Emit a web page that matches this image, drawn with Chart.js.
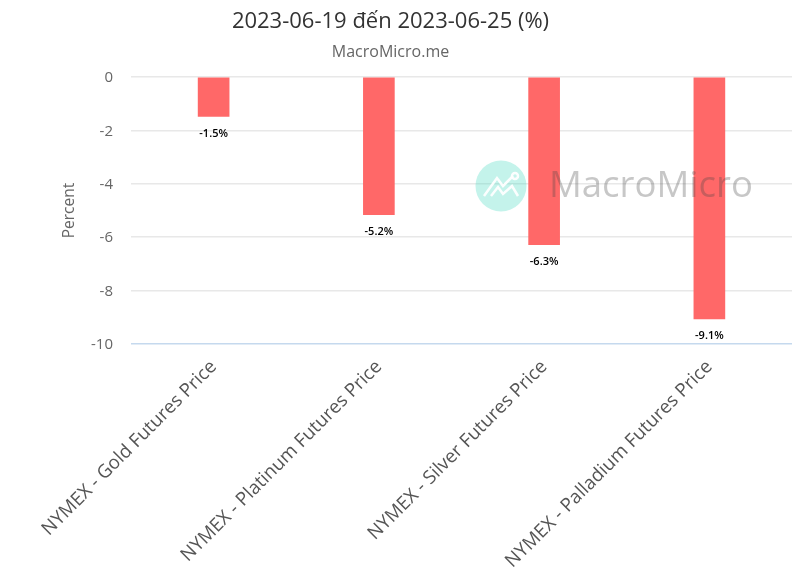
<!DOCTYPE html>
<html>
  <head>
    <title>MacroMicro</title>
    <script src="https://cdn.jsdelivr.net/npm/chart.js"></script>
    <style>
      body { margin: 0; background: #fff; font-family: "Open Sans", sans-serif; }
      #wrap { position: relative; width: 800px; height: 570px; overflow: hidden; }
      #title, #subtitle { position: absolute; left: 0; width: 781px; text-align: center; white-space: nowrap; }
      #title { top: 5px; font-size: 22px; line-height: 28px; color: #333; }
      #subtitle { top: 41px; font-size: 16px; line-height: 20px; color: #666; }
      canvas { position: absolute; left: 0; top: 0; }
    </style>
  </head>
  <body>
    <div id="wrap">
      <canvas id="chart" width="800" height="570"></canvas>
      <div id="title"></div>
      <div id="subtitle"></div>
    </div>
    <script>
      const titleText = "2023-06-19 đến 2023-06-25 (%)";
      const subtitleText = "MacroMicro.me";
      const categories = [
        "NYMEX - Gold Futures Price",
        "NYMEX - Platinum Futures Price",
        "NYMEX - Silver Futures Price",
        "NYMEX - Palladium Futures Price",
      ];
      const changes = [-1.48, -5.16, -6.28, -9.06];
      const axisLabel = "Percent";
      const watermarkText = "MacroMicro";

      document.getElementById("title").innerText = titleText;
      document.getElementById("subtitle").innerText = subtitleText;

      // value labels under each bar
      const barLabels = {
        id: "barLabels",
        afterDatasetsDraw(chart) {
          const ctx = chart.ctx;
          ctx.save();
          ctx.font = "600 11px 'Open Sans'";
          ctx.fillStyle = "#000";
          ctx.textAlign = "center";
          ctx.textBaseline = "middle";
          chart.getDatasetMeta(0).data.forEach((bar, i) => {
            ctx.fillText(changes[i].toFixed(1) + "%", bar.x, bar.y + 17);
          });
          ctx.restore();
        },
      };

      // logo sits over the bars, semi transparent
      const watermark = {
        id: "watermark",
        afterDraw(chart) {
          const ctx = chart.ctx;
          ctx.save();
          ctx.fillStyle = "rgba(60,215,190,0.3)";
          ctx.beginPath();
          ctx.arc(501, 186, 25.5, 0, Math.PI * 2);
          ctx.fill();
          ctx.strokeStyle = "rgba(255,255,255,0.95)";
          ctx.lineWidth = 2.5;
          ctx.beginPath();
          ctx.moveTo(484, 196);
          ctx.lineTo(497, 178);
          ctx.lineTo(503, 186);
          ctx.lineTo(513, 176);
          ctx.stroke();
          ctx.beginPath();
          ctx.moveTo(491, 196);
          ctx.lineTo(498, 187);
          ctx.lineTo(503, 194);
          ctx.lineTo(512, 186);
          ctx.lineTo(518, 196);
          ctx.stroke();
          ctx.beginPath();
          ctx.arc(515, 176, 3, 0, Math.PI * 2);
          ctx.stroke();
          ctx.font = "36.5px 'Open Sans'";
          ctx.fillStyle = "rgba(70,70,70,0.3)";
          ctx.textAlign = "left";
          ctx.textBaseline = "middle";
          ctx.fillText(watermarkText, 549, 187);
          ctx.restore();
        },
      };

      new Chart(document.getElementById("chart").getContext("2d"), {
        type: "bar",
        data: {
          labels: categories,
          datasets: [
            {
              data: changes,
              backgroundColor: "#ff6868",
              barThickness: 31,
            },
          ],
        },
        options: {
          responsive: false,
          animation: false,
          layout: { padding: { top: 77, right: 8, bottom: 0, left: 0 } },
          plugins: {
            legend: { display: false },
            title: { display: false },
            tooltip: { enabled: false },
          },
          scales: {
            x: {
              position: "bottom",
              grid: { display: false, drawTicks: false },
              border: { display: false },
              ticks: {
                minRotation: 45,
                maxRotation: 45,
                padding: 12,
                color: "#555",
                font: { family: "'Open Sans'", size: 18.7 },
              },
              afterFit(axis) {
                axis.height = 226;
              },
            },
            y: {
              min: -10,
              max: 0,
              ticks: {
                stepSize: 2,
                padding: 18,
                labelOffset: 1,
                color: "#666",
                font: { family: "'Open Sans'", size: 15 },
              },
              grid: {
                drawTicks: false,
                lineWidth: 1.5,
                color: (c) => (c.tick.value === -10 ? "#c5d9ee" : "#e8e8e8"),
              },
              border: { display: false },
              title: {
                display: true,
                text: axisLabel,
                color: "#666",
                padding: { top: 60, bottom: 0 },
                font: { family: "'Open Sans'", size: 15.5 },
              },
              afterFit(axis) {
                axis.width = 131;
              },
            },
          },
        },
        plugins: [barLabels, watermark],
      });
    </script>
  </body>
</html>
